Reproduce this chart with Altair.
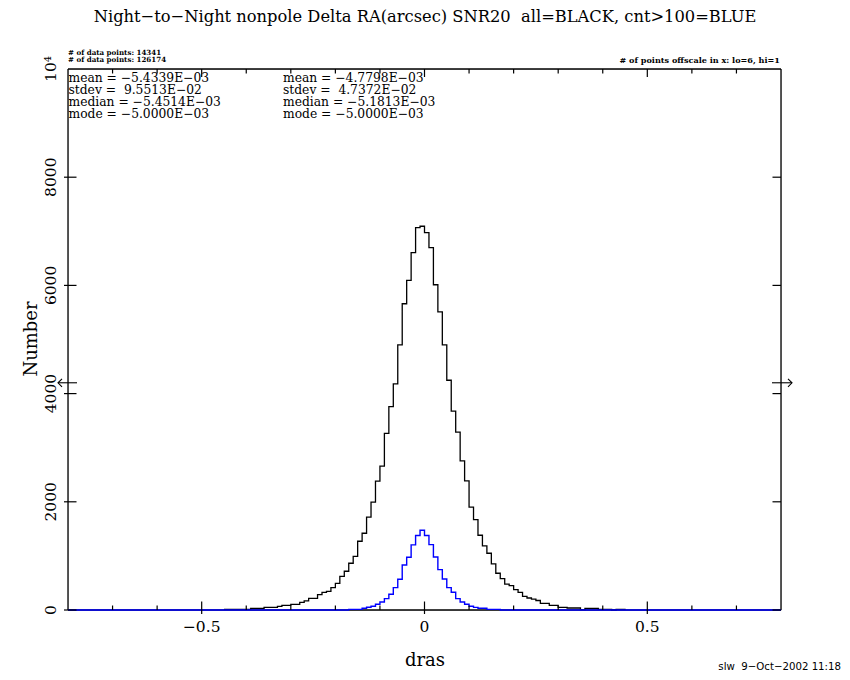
import altair as alt
import pandas as pd

# ---------------- data ----------------
bin_width = 0.01
black_start = -0.45
black_counts = [12, 12, 12, 12, 12, 12, 31, 31, 31, 49, 49, 49, 68, 86, 86, 105, 105,
                142, 167, 216, 216, 284, 327, 345, 413, 494, 623, 716, 864, 993, 1271,
                1419, 1715, 1993, 2382, 2659, 3264, 3760, 4179, 4901, 5661, 6093, 6605,
                7068, 7093,
                6975, 6698, 6012, 5512, 4901, 4247, 3677, 3289, 2758, 2388, 1900, 1672,
                1382, 1185, 1049, 851, 679, 580, 478, 452, 375, 324, 253, 222, 200, 176,
                123, 123, 86, 86, 49, 49, 37, 37, 37, 6, 31, 31, 31, 12, 12, 12, 0, 12, 12]
blue_start = -0.17
blue_counts = [12, 12, 12, 31, 52, 68, 105, 148, 210, 290, 413, 568, 833, 975, 1203, 1376,
               1475, 1376, 1209, 981, 746, 574, 413, 327, 210, 148, 105, 68, 49, 31, 31,
               12, 12, 12]
x_domain = [-0.8, 0.8]
y_domain = [0, 10000]
x_label_values = [-0.5, 0, 0.5]
x_label_text = ["\u22120.5", "0", "0.5"]
x_minor_values = [-0.7, -0.6, -0.4, -0.3, -0.2, -0.1, 0.1, 0.2, 0.3, 0.4, 0.6, 0.7]
y_label_values = [0, 2000, 4000, 6000, 8000, 10000]
y_label_text = ["0", "2000", "4000", "6000", "8000", "10\u2074"]
y_tick_values = [0, 2000, 4000, 6000, 8000]
arrow_level = [4200]

title_text = "Night\u2212to\u2212Night nonpole Delta RA(arcsec) SNR20\u00a0 all=BLACK, cnt>100=BLUE"
npts_lines = ["# of data points: 14341", "# of data points: 126174"]
offscale_text = "# of points offscale in x: lo=6, hi=1"
stats_all = ["mean = \u22125.4339E\u221203", "stdev =\u00a0 9.5513E\u221202",
             "median = \u22125.4514E\u221203", "mode = \u22125.0000E\u221203"]
stats_blue = ["mean = \u22124.7798E\u221203", "stdev =\u00a0 4.7372E\u221202",
              "median = \u22125.1813E\u221203", "mode = \u22125.0000E\u221203"]
x_title = "dras"
y_title = "Number"
stamp = "slw\u00a0 9\u2212Oct\u22122002 11:18"

# ---------------- tables ----------------
bx = [round(black_start + bin_width * i, 2) for i in range(len(black_counts))]
black_df = pd.DataFrame({"x": bx + [round(bx[-1] + bin_width, 2)],
                         "n": black_counts + [0]})
ux = [round(blue_start + bin_width * i, 2) for i in range(len(blue_counts))]
blue_df = pd.DataFrame({"x": [x_domain[0]] + ux + [round(ux[-1] + bin_width, 2), x_domain[1]],
                        "n": [0] + blue_counts + [0, 0]})
xlab_df = pd.DataFrame({"v": x_label_values, "t": x_label_text})
ylab_df = pd.DataFrame({"v": y_label_values, "t": y_label_text})

W, H = 713, 541
SERIF = "DejaVu Serif"

xs = alt.Scale(domain=x_domain, nice=False, zero=False)
ys = alt.Scale(domain=y_domain, nice=False, zero=False)

black = alt.Chart(black_df).mark_line(interpolate="step-after", color="black",
                                      strokeWidth=1.3).encode(
    x=alt.X("x:Q", scale=xs, axis=None),
    y=alt.Y("n:Q", scale=ys, axis=None))

blue = alt.Chart(blue_df).mark_line(interpolate="step-after", color="#0000ff",
                                    strokeWidth=1.4).encode(
    x=alt.X("x:Q", scale=xs, axis=None),
    y=alt.Y("n:Q", scale=ys, axis=None))

one = pd.DataFrame({"k": [0]})
frame = [
    alt.Chart(one).mark_rule(color="black", strokeWidth=1.3).encode(
        x=alt.value(0), y=alt.value(0), y2=alt.value(H)),
    alt.Chart(one).mark_rule(color="black", strokeWidth=1.3).encode(
        x=alt.value(W), y=alt.value(0), y2=alt.value(H)),
    alt.Chart(one).mark_rule(color="black", strokeWidth=1.3).encode(
        x=alt.value(0), x2=alt.value(W), y=alt.value(0)),
    alt.Chart(one).mark_rule(color="black", strokeWidth=1.3).encode(
        x=alt.value(0), x2=alt.value(W), y=alt.value(H)),
]


def xticks(vals, y1, y2):
    return alt.Chart(pd.DataFrame({"v": vals})).mark_rule(color="black", strokeWidth=1.2).encode(
        x=alt.X("v:Q", scale=xs, axis=None), y=alt.value(y1), y2=alt.value(y2))


def yticks(vals, x1, x2):
    return alt.Chart(pd.DataFrame({"v": vals})).mark_rule(color="black", strokeWidth=1.2).encode(
        y=alt.Y("v:Q", scale=ys, axis=None), x=alt.value(x1), x2=alt.value(x2))


ticks = [
    xticks(x_label_values, H - 8.5, H + 4),
    xticks(x_minor_values, H - 4.5, H),
    xticks(x_label_values, 0, 8),
    xticks(x_minor_values, 0, 4.5),
    yticks(y_tick_values, -4, 8.5),
    yticks(y_tick_values, W - 8.5, W),
]

tick_labels = [
    alt.Chart(xlab_df).mark_text(font=SERIF, fontSize=15.5, align="center",
                                 baseline="alphabetic", color="black").encode(
        x=alt.X("v:Q", scale=xs, axis=None), y=alt.value(563), text="t:N"),
    alt.Chart(ylab_df).mark_text(font=SERIF, fontSize=15.5, align="center",
                                 baseline="alphabetic", angle=270, color="black").encode(
        y=alt.Y("v:Q", scale=ys, axis=None), x=alt.value(-12), text="t:N"),
]

arrows = [
    alt.Chart(pd.DataFrame({"v": arrow_level})).mark_rule(color="black", strokeWidth=1.1).encode(
        y=alt.Y("v:Q", scale=ys, axis=None), x=alt.value(-10), x2=alt.value(9)),
    alt.Chart(pd.DataFrame({"v": arrow_level})).mark_point(
        shape="M1,-1L0,0L1,1", filled=False, color="black", size=64, strokeWidth=1.1, opacity=1).encode(
        y=alt.Y("v:Q", scale=ys, axis=None), x=alt.value(-10)),
    alt.Chart(pd.DataFrame({"v": arrow_level})).mark_rule(color="black", strokeWidth=1.1).encode(
        y=alt.Y("v:Q", scale=ys, axis=None), x=alt.value(W - 9), x2=alt.value(W + 11)),
    alt.Chart(pd.DataFrame({"v": arrow_level})).mark_point(
        shape="M-1,-1L0,0L-1,1", filled=False, color="black", size=64, strokeWidth=1.1, opacity=1).encode(
        y=alt.Y("v:Q", scale=ys, axis=None), x=alt.value(W + 11)),
]


def txt(s, x, y, size, font=SERIF, align="left", angle=0, weight="normal"):
    return alt.Chart(pd.DataFrame({"t": [s]})).mark_text(
        align=align, baseline="alphabetic", font=font, fontSize=size, fontWeight=weight,
        angle=angle, color="black").encode(text="t:N", x=alt.value(x), y=alt.value(y))


texts = [
    txt(title_text, 357, -47, 16.3, align="center"),
    txt(npts_lines[0], 0, -14, 7.1, weight="bold"),
    txt(npts_lines[1], 0, -7.5, 7.1, weight="bold"),
    txt(offscale_text, 712, -6, 8.1, align="right", weight="bold"),
    txt(x_title, 357, 597, 18, align="center"),
    txt(y_title, -31, 270, 18, align="center", angle=270),
    txt(stamp, 773, 601, 10.2, font="DejaVu Sans", align="right"),
]
for i, s in enumerate(stats_all):
    texts.append(txt(s, 0.5, 12.5 + 12 * i, 12.3))
for i, s in enumerate(stats_blue):
    texts.append(txt(s, 215, 12.5 + 12 * i, 12.3))

chart = alt.layer(black, *frame, blue, *ticks, *tick_labels, *arrows, *texts).properties(
    width=W, height=H,
    autosize=alt.AutoSizeParams(type="none"),
    padding={"left": 60, "top": 61, "right": 61, "bottom": 62},
).configure_view(stroke=None).configure(background="white")

chart.save("out.html", embed_options={"renderer": "svg", "actions": False})
